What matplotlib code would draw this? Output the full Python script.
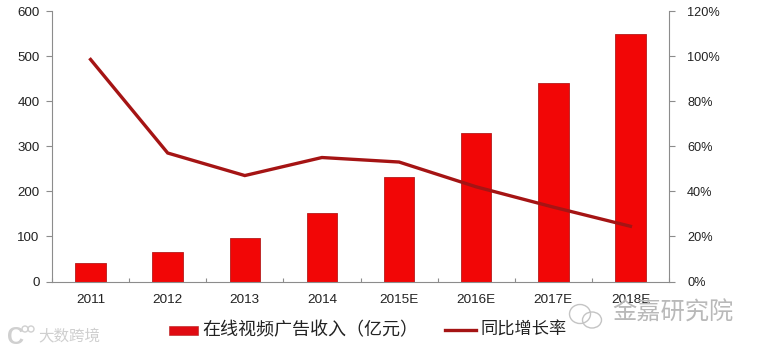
import matplotlib
matplotlib.use("Agg")
import matplotlib.pyplot as plt
from matplotlib.patches import Ellipse

plt.rcParams['font.family'] = ['Noto Sans CJK SC', 'DejaVu Sans']

years = ['2011', '2012', '2013', '2014', '2015E', '2016E', '2017E', '2018E']
revenue = [42, 66, 97, 151, 231, 329, 441, 548]
growth = [98.5, 57, 47, 55, 53, 42, 33, 24.5]
left_ticks = [0, 100, 200, 300, 400, 500, 600]
right_ticks = [0, 20, 40, 60, 80, 100, 120]
bar_label = '在线视频广告收入（亿元）'
line_label = '同比增长率'

W, H = 759, 351
fig = plt.figure(figsize=(W/100, H/100), dpi=100, facecolor='white')
ax = fig.add_axes([52/W, 1-281.5/H, (669-52)/W, (281.5-11)/H])
ax.bar(range(len(years)), revenue, width=0.395, color='#f20606', edgecolor='#b51c1c', linewidth=0.6, zorder=2)
ax.set_xlim(-0.5, 7.5)
ax.set_ylim(0, 600)
ax.set_yticks(left_ticks)
ax.set_xticks([i - 0.5 for i in range(9)], minor=False)
ax.set_xticklabels([])
ax.set_xticks(range(len(years)), minor=True)
ax.set_xticklabels(years, minor=True, fontsize=9.7, color='#222222', family=['Liberation Sans'])
ax.tick_params(axis='x', which='major', length=3, direction='in', color='#8c8c8c', width=0.8)
ax.tick_params(axis='x', which='minor', length=0, pad=9)
ax.tick_params(axis='y', length=4, direction='out', color='#8c8c8c', width=0.8, labelsize=9.6, labelcolor='#222222', pad=5)
for lab in ax.get_yticklabels():
    lab.set_family(['Liberation Sans'])
for s in ['top', 'right']:
    ax.spines[s].set_visible(False)
for s in ['left', 'bottom']:
    ax.spines[s].set_color('#8c8c8c')
    ax.spines[s].set_linewidth(0.8)

ax2 = ax.twinx()
ax2.plot(range(len(years)), growth, color='#a51414', linewidth=2.4, zorder=3, solid_joinstyle='miter')
ax2.set_ylim(0, 120)
ax2.set_yticks(right_ticks)
ax2.set_yticklabels([f'{v}%' for v in right_ticks], fontsize=9.2, color='#222222', family=['Liberation Sans'])
ax2.tick_params(axis='y', length=4, direction='out', color='#8c8c8c', width=0.8, pad=9)
for s in ['top', 'left', 'bottom']:
    ax2.spines[s].set_visible(False)
ax2.spines['right'].set_color('#8c8c8c')
ax2.spines['right'].set_linewidth(0.8)

def px(x, y):
    return x/W, 1-y/H

# legend, drawn in figure coordinates
fig.patches.append(plt.Rectangle(px(169, 335), 29/W, 9/H, transform=fig.transFigure, facecolor='#e00b12', edgecolor='#b51c1c', linewidth=0.4))
fig.text(*px(202, 330), bar_label, fontsize=13, color='#222222', va='center', ha='left')
fig.add_artist(plt.Line2D([445/W, 476/W], [1-330/H, 1-330/H], color='#a51414', linewidth=2.4))
fig.text(*px(480, 330), line_label, fontsize=12.4, color='#222222', va='center', ha='left')

# watermarks
fig.text(*px(38, 336), '大数跨境', fontsize=11.2, color='#cfcfcf', va='center', ha='left')
fig.text(*px(7, 337), 'C', fontsize=17, color='#d0d0d0', va='center', ha='left', family=['Liberation Sans'], fontweight='bold')
for cx, cy in [(25, 329), (31, 329)]:
    fig.add_artist(Ellipse(px(cx, cy), 6/W, 6/H, transform=fig.transFigure, facecolor='none', edgecolor='#d0d0d0', linewidth=1))
fig.text(*px(612, 313), '金嘉研究院', fontsize=17.5, color='#b9b9b9', va='center', ha='left')
fig.add_artist(Ellipse(px(592, 320), 19/W, 16/H, transform=fig.transFigure, facecolor='none', edgecolor='#c4c4c4', linewidth=1))
fig.add_artist(Ellipse(px(580, 314), 21/W, 19/H, transform=fig.transFigure, facecolor='none', edgecolor='#c4c4c4', linewidth=1))

fig.savefig('out.png', dpi=100, facecolor='white')
